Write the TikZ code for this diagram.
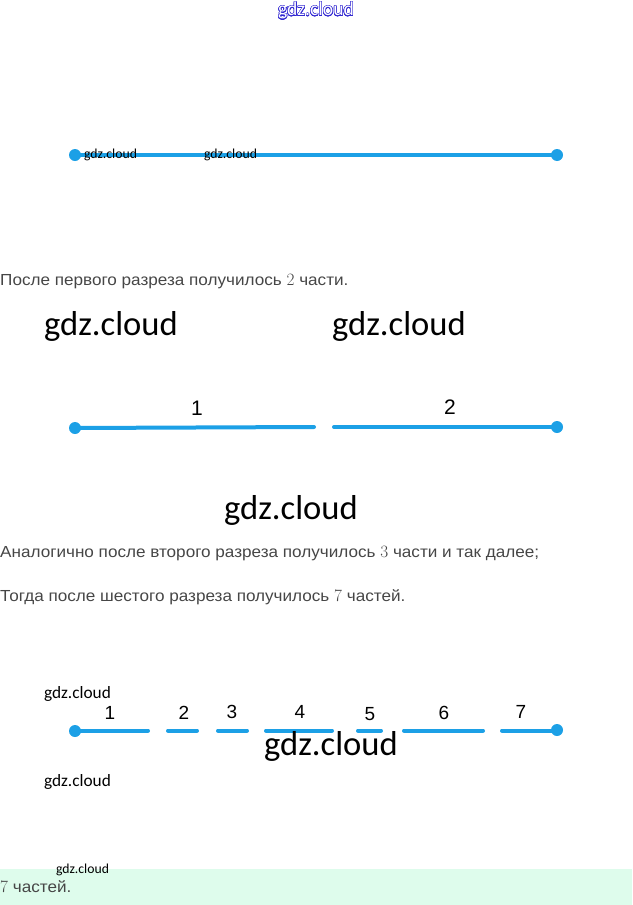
\documentclass[tikz,border=0pt]{standalone}
\usepackage{fontspec}
\setmainfont{Liberation Sans}
\newfontfamily\wmfont{Carlito}
\newfontfamily\bodyfont[FakeStretch=1.07]{Liberation Sans}
\newfontfamily\numfont{Liberation Sans}
\usepackage{contour}
\contourlength{0.45pt}
\contournumber{24}
\usetikzlibrary{positioning}
\definecolor{segblue}{RGB}{28,160,230}
\definecolor{txtgray}{RGB}{70,70,70}
\definecolor{answergreen}{RGB}{222,252,236}
\definecolor{markblue}{RGB}{50,40,210}
\tikzset{
  seg/.style={segblue, line width=4pt, line cap=round},
  dot/.style={circle, fill=segblue, inner sep=0pt, minimum size=12pt},
  num/.style={inner sep=0pt, font=\numfont\fontsize{21}{21}\selectfont},
  body/.style={anchor=west, inner sep=0pt, txtgray, font=\bodyfont\fontsize{16}{16}\selectfont},
  wm/.style={inner sep=0pt, font=\wmfont\fontsize{#1}{#1}\selectfont},
}
\begin{document}
\begin{tikzpicture}[x=1pt, y=-1pt, line join=round]
	\useasboundingbox (0,0) rectangle (632,905);
	\fill[answergreen] (0,869) rectangle (632,905);
	% whole segment
	\node[dot] (l1s) at (75,155) {};
	\node[dot] (l1e) at (557,155) {};
	\draw[seg] (l1s.center) -- (l1e.center);
	% one cut
	\node[dot] (l2s) at (75,428) {};
	\node[dot] (l2e) at (557,427) {};
	\coordinate (l2a) at (314,427);
	\coordinate (l2b) at (334,427);
	\draw[seg] (l2s.center) -- (l2a);
	\draw[seg] (l2b) -- (l2e.center);
	\node[num] (n1) at (197,408) {1};
	\node[num] (n2) at (450,407) {2};
	% six cuts
	\node[dot] (l3s) at (75,731) {};
	\node[dot] (l3e) at (557,730) {};
	\foreach \i/\a/\b in {1/75/148, 2/168/197, 3/218/247, 4/266/332, 5/358/381, 6/404/483, 7/502/557}{
		\coordinate (p\i) at (\a,730.5);
		\coordinate (q\i) at (\b,730.5);
		\draw[seg] (p\i) -- (q\i);
	}
	\foreach \i/\x/\y in {1/110/713, 2/184/713, 3/232/712, 4/300/712, 5/370/714, 6/444/713, 7/521/712}
	\node[num, font=\numfont\fontsize{19}{19}\selectfont] (m\i) at (\x,\y) {\i};
	% texts
	\node[body] (t1) at (0,282) {После первого разреза получилось $2$ части.};
	\node[body] (t2) at (0,554) {Аналогично после второго разреза получилось $3$ части и так далее;};
	\node[body] (t3) at (0,597) {Тогда после шестого разреза получилось $7$ частей.};
	\node[body] (t4) at (0,887) {$7$ частей.};
	% marks
	\node[wm=19.6] (w0) at (316,11) {\contour{markblue}{\textcolor{white}{gdz.cloud}}};
	\node[wm=13.7] (w1) at (110.5,155) {gdz.cloud};
	\node[wm=13.7] (w2) at (230.5,155) {gdz.cloud};
	\node[wm=34.6] (w3) at (111,326) {gdz.cloud};
	\node[wm=34.6] (w4) at (399,326) {gdz.cloud};
	\node[wm=34.6] (w5) at (291,510) {gdz.cloud};
	\node[wm=17.3] (w6) at (77.5,694) {gdz.cloud};
	\node[wm=34.6] (w7) at (331,746) {gdz.cloud};
	\node[wm=17.3] (w8) at (77.5,782) {gdz.cloud};
	\node[wm=13.7] (w9) at (82.5,870) {gdz.cloud};
\end{tikzpicture}
\end{document}
